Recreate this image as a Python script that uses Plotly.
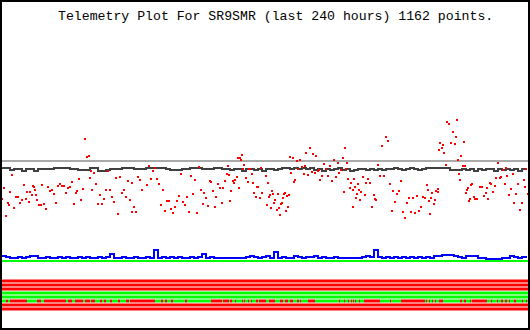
import numpy as np
import plotly.graph_objects as go

TITLE = "Telemetry Plot For SR9SMR (last 240 hours) 1162 points."

# ---- time base: 240 hours spread over 526 time columns ----
HOURS_SPAN = 240
N_COLS = 526
FIRST_COL = 2
HOURS_PER_COL = HOURS_SPAN / N_COLS
SAMPLE_STEP = 4  # columns between successive samples of the slow channels

# ---- analog channels (raw telemetry units) ----
GRAY_LEVEL = 110
GREEN_LEVEL = 10

BLACK_VALS = [
    103, 103, 101, 102, 102, 100, 102, 102, 100, 102, 102, 102, 102, 103, 103, 103, 103, 102, 102, 101,
    101, 101, 103, 103, 100, 100, 101, 102, 102, 102, 103, 103, 103, 102, 102, 102, 103, 103, 103, 103,
    103, 102, 101, 101, 101, 102, 102, 103, 103, 103, 102, 102, 102, 103, 103, 102, 102, 101, 102, 102,
    100, 102, 102, 101, 102, 100, 102, 102, 101, 102, 103, 103, 102, 103, 102, 103, 102, 103, 101, 102,
    100, 102, 101, 102, 103, 101, 102, 100, 101, 102, 102, 101, 102, 101, 102, 101, 102, 102, 103, 102,
    101, 102, 103, 102, 101, 102, 103, 103, 103, 103, 103, 103, 101, 101, 101, 102, 101, 102, 100, 102,
    101, 102, 102, 100, 102, 101, 102, 101, 102, 100, 102, 101,
]

BLUE_VALS = [
    15, 14, 13, 13, 14, 13, 14, 15, 15, 13, 13, 14, 13, 13, 14, 13, 14, 13, 13, 14,
    13, 14, 13, 13, 14, 13, 14, 17, 13, 13, 14, 13, 13, 14, 13, 13, 14, 13, 21, 13,
    14, 13, 14, 13, 14, 13, 13, 14, 13, 14, 17, 13, 14, 13, 13, 13, 13, 13, 13, 13,
    13, 14, 15, 14, 13, 14, 15, 13, 19, 13, 14, 13, 13, 15, 14, 13, 14, 14, 15, 13,
    14, 13, 13, 14, 13, 13, 13, 13, 13, 13, 14, 15, 14, 21, 14, 13, 14, 13, 14, 13,
    14, 13, 14, 13, 14, 13, 14, 13, 15, 15, 16, 16, 16, 15, 14, 13, 15, 15, 15, 13,
    13, 12, 12, 12, 12, 13, 13, 15, 14, 13, 14, 13,
]

# sparse channel: (time column, value)
RED_COLS = [
    1, 3, 5, 7, 8, 9, 11, 13, 15, 17, 19, 21, 23, 25, 26, 28, 29, 31, 32, 33, 34, 35, 36, 38, 40,
    41, 43, 45, 47, 49, 51, 53, 55, 57, 59, 61, 63, 65, 67, 69, 71, 73, 75, 76, 78, 80, 82, 84, 86, 88,
    89, 90, 91, 93, 95, 97, 99, 101, 103, 105, 107, 109, 111, 113, 115, 117, 119, 121, 123, 125, 127, 129, 131, 131, 133,
    135, 137, 139, 141, 146, 148, 150, 152, 154, 156, 158, 160, 162, 164, 166, 168, 170, 172, 174, 176, 178, 180,
    182, 184, 186, 188, 190, 192, 194, 196, 198, 200, 202, 203, 205, 207, 209, 210, 212, 214, 215, 217, 219, 221, 222,
    224, 226, 227, 228, 229, 230, 232, 233, 234, 236, 237, 238, 239, 240, 241, 242, 243, 245, 247, 248, 249, 251, 252,
    253, 255, 256, 257, 259, 260, 261, 265, 266, 267, 268, 269, 270, 271, 272, 273, 274, 276, 277, 278, 279, 280, 281,
    282, 283, 284, 285, 286, 287, 288, 289, 290, 292, 293, 294, 296, 297, 299, 301, 303, 304, 305, 307, 309, 311, 312,
    314, 315, 317, 318, 319, 321, 323, 325, 327, 329, 331, 333, 335, 337, 338, 340, 342, 343, 344, 345, 346, 347, 349,
    350, 352, 352, 353, 354, 355, 356, 357, 358, 359, 360, 362, 364, 365, 367, 369, 371, 373, 374, 375, 377, 379, 381,
    383, 385, 387, 389, 391, 392, 394, 396, 398, 400, 402, 404, 406, 408, 410, 412, 414, 416, 418, 420, 422, 424, 426,
    427, 428, 429, 430, 431, 433, 434, 435, 437, 437, 438, 439, 441, 442, 443, 445, 446, 448, 450, 452, 454, 455, 456,
    457, 458, 459, 460, 462, 463, 464, 465, 466, 467, 468, 469, 470, 471, 473, 474, 476, 479, 481, 483, 485, 486, 487,
    489, 490, 492, 494, 495, 497, 499, 500, 502, 504, 505, 506, 508, 510, 512, 513, 515, 517, 519, 521, 523, 524, 525,
    527, 528,
]
RED_VALS = [
    72, 83, 55, 68, 66, 79, 96, 63, 74, 74, 68, 71, 86, 72, 79, 69, 79, 76, 85, 84, 81, 76, 71, 66, 66,
    86, 67, 62, 84, 80, 81, 77, 68, 85, 87, 85, 85, 78, 83, 84, 89, 67, 78, 80, 92, 71, 82, 132, 114, 115,
    93, 100, 81, 98, 87, 67, 76, 67, 72, 81, 100, 81, 74, 69, 93, 57, 94, 78, 81, 74, 90, 71, 88, 59, 64,
    59, 94, 91, 81, 86, 105, 92, 100, 103, 92, 87, 66, 81, 60, 70, 70, 62, 58, 64, 70, 75, 97,
    69, 66, 74, 59, 95, 77, 91, 58, 104, 81, 67, 78, 73, 65, 90, 89, 80, 64, 74, 87, 83, 68, 83,
    90, 97, 105, 96, 70, 80, 90, 88, 91, 94, 113, 83, 113, 111, 116, 102, 106, 93, 89, 102, 102, 97, 88,
    78, 74, 84, 84, 73, 103, 78, 95, 66, 88, 74, 76, 63, 80, 77, 68, 71, 61, 77, 63, 56, 67, 68,
    73, 77, 78, 60, 75, 64, 76, 114, 98, 113, 89, 91, 110, 102, 111, 104, 97, 105, 118, 96, 123, 99, 117,
    98, 115, 100, 101, 91, 95, 107, 102, 95, 105, 90, 111, 94, 108, 98, 101, 113, 79, 123, 102, 108, 92, 83,
    88, 81, 64, 92, 84, 73, 77, 87, 81, 71, 79, 94, 76, 88, 92, 88, 64, 76, 72, 71, 106, 95, 125,
    95, 134, 130, 87, 60, 80, 69, 77, 80, 90, 59, 53, 68, 73, 59, 73, 58, 75, 60, 64, 74, 73, 86,
    81, 70, 57, 73, 78, 67, 71, 80, 82, 79, 121, 128, 123, 126, 118, 106, 149, 147, 128, 139, 127, 134, 151,
    111, 97, 91, 115, 105, 129, 105, 78, 81, 83, 70, 72, 86, 87, 74, 72, 72, 84, 84, 75, 78, 83, 72,
    88, 87, 79, 85, 93, 108, 93, 94, 101, 87, 103, 95, 76, 82, 97, 68, 77, 87, 61, 68, 91, 84, 102,
    77, 88,
]

# ---- digital channels (8 bits): 1 = set (red), 0 = clear (green) ----
BIT_CONSTANT = [1, 1, 1, 0, 0, None, 1, 1]   # None = varying channel
BIT6_SET_SPANS = [
    (6, 8), (10, 27), (37, 41), (44, 66), (68, 72), (75, 83), (85, 90), (91, 95), (100, 102), (104, 106),
    (110, 112), (118, 120), (126, 129), (130, 155), (161, 163), (165, 167), (171, 173), (185, 187),
    (211, 222), (223, 229), (230, 232), (235, 236), (242, 243), (244, 245), (248, 249), (251, 252),
    (256, 258), (259, 266), (269, 275), (280, 283), (285, 288), (290, 293), (297, 299), (300, 301),
    (308, 315), (339, 340), (344, 345), (348, 349), (351, 352), (353, 354), (355, 356), (359, 360),
    (364, 380), (390, 391), (401, 425), (426, 427), (429, 430), (432, 433), (435, 436), (439, 443),
    (460, 462), (464, 466), (470, 471), (472, 487), (491, 492), (497, 498), (501, 503), (505, 507),
    (509, 510), (514, 516), (522, 523), (526, 527),
]
BIT_ROW_LEVELS = [-10.5, -14.5, -18.5, -22.5, -26.5, -30.5, -34.5, -38.5]


def col_to_hours(c):
    return (np.asarray(c, dtype=float) - FIRST_COL) * HOURS_PER_COL - HOURS_SPAN


t_black = col_to_hours(FIRST_COL + SAMPLE_STEP * np.arange(len(BLACK_VALS)))
t_blue = col_to_hours(FIRST_COL + SAMPLE_STEP * np.arange(len(BLUE_VALS)))
t_red = col_to_hours(np.array(RED_COLS) + 1)
t_full = col_to_hours([FIRST_COL, FIRST_COL + N_COLS])

cols = np.arange(FIRST_COL, FIRST_COL + N_COLS)
z = []
for const in BIT_CONSTANT:
    if const is None:
        row = np.zeros(len(cols))
        for a, b in BIT6_SET_SPANS:
            row[(cols >= a) & (cols < b)] = 1
    else:
        row = np.full(len(cols), const, dtype=float)
    z.append(row)

fig = go.Figure()

fig.add_trace(go.Heatmap(
    x=col_to_hours(cols + 0.5), y=BIT_ROW_LEVELS, z=z,
    colorscale=[[0, "#00ff00"], [1, "#ff0000"]], zmin=0, zmax=1,
    showscale=False, ygap=1, hoverinfo="skip",
))

fig.add_trace(go.Scatter(x=t_full, y=[GRAY_LEVEL, GRAY_LEVEL], mode="lines",
                         line=dict(color="#aaaaaa", width=2), hoverinfo="skip"))
fig.add_trace(go.Scatter(x=t_full, y=[GREEN_LEVEL, GREEN_LEVEL], mode="lines",
                         line=dict(color="#00ff00", width=2), hoverinfo="skip"))
fig.add_trace(go.Scatter(x=t_black, y=BLACK_VALS, mode="lines",
                         line=dict(color="#404040", width=2, shape="hv"), hoverinfo="skip"))
fig.add_trace(go.Scatter(x=t_blue, y=BLUE_VALS, mode="lines",
                         line=dict(color="#0000ff", width=2, shape="hv"), hoverinfo="skip"))
fig.add_trace(go.Scatter(x=t_red, y=RED_VALS, mode="markers",
                         marker=dict(symbol="square", size=2, color="#ff0000", line=dict(width=0)),
                         hoverinfo="skip"))

fig.add_annotation(text=TITLE, xref="paper", yref="paper", x=275.5 / 530, y=1 - 16.5 / 330,
                   xanchor="center", yanchor="middle", showarrow=False,
                   font=dict(family="Liberation Mono", size=13.2, color="black"))

fig.add_shape(type="rect", xref="paper", yref="paper",
              x0=1 / 530, x1=529 / 530, y0=1 / 330, y1=329 / 330,
              line=dict(color="black", width=2), fillcolor="rgba(0,0,0,0)")

fig.update_xaxes(range=[col_to_hours(0), col_to_hours(530)], visible=False)
fig.update_yaxes(range=[-59, 271], visible=False)
fig.update_layout(width=530, height=330, margin=dict(l=0, r=0, t=0, b=0),
                  paper_bgcolor="white", plot_bgcolor="white", showlegend=False)

fig.write_html("out.html", config={"displayModeBar": False})
